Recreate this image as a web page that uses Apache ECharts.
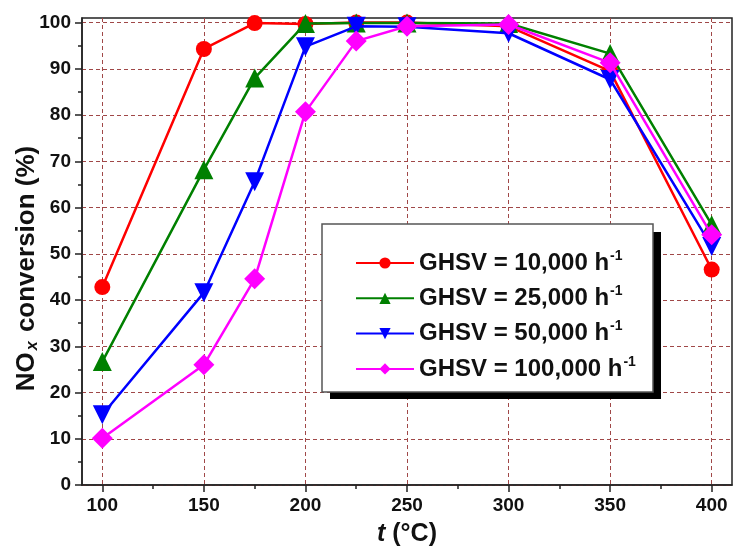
<!DOCTYPE html>
<html><head><meta charset="utf-8">
<script src="https://cdn.jsdelivr.net/npm/echarts@6/dist/echarts.min.js"></script>
<style>html,body{margin:0;padding:0;background:#fff}#c{width:734px;height:548px}</style>
</head><body><div id="c"></div>
<script>
const temps = [100, 150, 175, 200, 225, 250, 300, 350, 400];
const ghsv10k = [42.8, 94.3, 99.9, 99.7, 100, 100, 99.2, 89.5, 46.6];
const ghsv25k = [26.7, 68.2, 88.0, 99.8, 99.9, 99.9, 99.8, 93.3, 56.3];
const ghsv50k = [15.2, 41.6, 65.6, 94.8, 99.2, 99.1, 97.7, 87.7, 51.6];
const ghsv100k = [10.1, 26.0, 44.6, 80.7, 96.0, 99.2, 99.6, 91.3, 54.1];
const seriesNames = ['GHSV = 10,000 h', 'GHSV = 25,000 h', 'GHSV = 50,000 h', 'GHSV = 100,000 h'];
const xTicks = [100, 150, 200, 250, 300, 350, 400];
const xMinor = [125, 175, 225, 275, 325, 375];
const yTicks = [0, 10, 20, 30, 40, 50, 60, 70, 80, 90, 100];
const yMinor = [5, 15, 25, 35, 45, 55, 65, 75, 85, 95];

const font = 'Liberation Sans, Arial, sans-serif';
const gridLine = {show: true, lineStyle: {color: '#a04848', type: [4, 3], width: 1}};
const colors = ['#ff0000', '#008000', '#0000ff', '#ff00ff'];
const symbols = ['circle', 'triangle', 'triangle', 'diamond'];
const rot = [0, 0, 180, 0];
const sizes = [16, 19, 19, 21];
const vals = [ghsv10k, ghsv25k, ghsv50k, ghsv100k];

const chart = echarts.init(document.getElementById('c'), null, {renderer: 'canvas'});
const series = vals.map((v, i) => ({
  name: seriesNames[i],
  type: 'line',
  xAxisIndex: 0, yAxisIndex: 0,
  data: temps.map((t, j) => [t, v[j]]),
  smooth: false,
  symbol: symbols[i],
  symbolRotate: rot[i],
  symbolSize: sizes[i],
  showAllSymbol: true,
  lineStyle: {color: colors[i], width: 2.5},
  itemStyle: {color: colors[i]},
  z: 2 + i
}));
const option = {
  animation: false,
  grid: {left: 82, right: 2, top: 18, bottom: 63, outerBoundsMode: 'none', containLabel: false, show: true, borderColor: '#222', borderWidth: 1.5, backgroundColor: 'transparent'},
  graphic: [
    {type: 'rect', z: 20, shape: {x: 330, y: 232, width: 331, height: 167}, style: {fill: '#000'}},
    {type: 'rect', z: 21, shape: {x: 322, y: 224, width: 331, height: 168}, style: {fill: '#fff', stroke: '#555', lineWidth: 1.5}}
  ],
  xAxis: [{
    type: 'value', min: 90, max: 410,
    name: '{i|t} (°C)', nameLocation: 'middle', nameGap: 37, nameMoveOverlap: false,
    nameTextStyle: {fontFamily: font, fontSize: 25, fontWeight: 'bold', color: '#111',
      rich: {i: {fontFamily: font, fontSize: 25, fontWeight: 'bold', fontStyle: 'italic', color: '#111'}}},
    axisLine: {onZero: false, lineStyle: {color: '#222', width: 1.5}},
    axisTick: {show: true, inside: false, length: 7, customValues: xTicks, lineStyle: {color: '#222', width: 1.5}},
    axisLabel: {customValues: xTicks, fontFamily: font, fontSize: 19, fontWeight: 'bold', color: '#111', margin: 11},
    splitLine: gridLine
  }, {
    type: 'value', min: 90, max: 410, position: 'bottom', gridIndex: 0,
    axisLine: {show: false},
    axisTick: {show: true, length: 4, customValues: xMinor, lineStyle: {color: '#222', width: 1.5}},
    axisLabel: {show: false},
    splitLine: {show: false}
  }],
  yAxis: [{
    type: 'value', min: 0, max: 101,
    name: 'NO{sub|x} conversion (%)', nameLocation: 'middle', nameGap: 41, nameMoveOverlap: false,
    nameTextStyle: {fontFamily: font, fontSize: 26, fontWeight: 'bold', color: '#111', padding: [0, 34, 0, 0],
      rich: {sub: {fontFamily: font, fontSize: 16, fontWeight: 'bold', fontStyle: 'italic', color: '#111', verticalAlign: 'bottom', padding: [12, 2, 0, 2]}}},
    axisLine: {onZero: false, lineStyle: {color: '#222', width: 1.5}},
    axisTick: {show: true, inside: false, length: 7, customValues: yTicks, lineStyle: {color: '#222', width: 1.5}},
    axisLabel: {customValues: yTicks, fontFamily: font, fontSize: 19, fontWeight: 'bold', color: '#111', margin: 11},
    splitLine: gridLine
  }, {
    type: 'value', min: 0, max: 101, position: 'left', gridIndex: 0,
    axisLine: {show: false},
    axisTick: {show: true, length: 4, customValues: yMinor, lineStyle: {color: '#222', width: 1.5}},
    axisLabel: {show: false},
    splitLine: {show: false}
  }],
  legend: {
    orient: 'vertical', left: 355, top: 249,
    padding: 0,
    itemGap: 7.3,
    itemWidth: 58, itemHeight: 14,
    z: 30,
    formatter: name => '{a|' + name + '}{s|-1}',
    textStyle: {
      fontFamily: font, fontSize: 24, fontWeight: 'bold', color: '#111', lineHeight: 28,
      rich: {
        a: {fontFamily: font, fontSize: 24, fontWeight: 'bold', color: '#111', lineHeight: 28},
        s: {fontFamily: font, fontSize: 14, fontWeight: 'bold', color: '#111', verticalAlign: 'top', lineHeight: 28, padding: [0, 0, 12, 1]}
      }
    },
    data: seriesNames
  },
  series: series
};
chart.setOption(option);
</script></body></html>
